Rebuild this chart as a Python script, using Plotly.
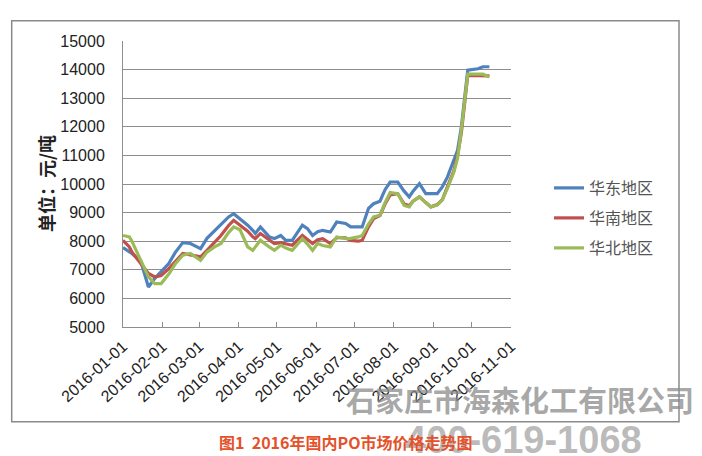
import plotly.graph_objects as go

# ---- data ----
dates = [
    "2016-01-01", "2016-01-06", "2016-01-08", "2016-01-15", "2016-01-21", "2016-01-26",
    "2016-01-31", "2016-02-06", "2016-02-11", "2016-02-17", "2016-02-23", "2016-03-02",
    "2016-03-07", "2016-03-13", "2016-03-18", "2016-03-24", "2016-03-28", "2016-04-02",
    "2016-04-08", "2016-04-12", "2016-04-14", "2016-04-18", "2016-04-25", "2016-04-29",
    "2016-05-04", "2016-05-08", "2016-05-13", "2016-05-21", "2016-05-25", "2016-05-29",
    "2016-06-02", "2016-06-06", "2016-06-12", "2016-06-17", "2016-06-24", "2016-06-28",
    "2016-07-04", "2016-07-07", "2016-07-12", "2016-07-16", "2016-07-21", "2016-07-25",
    "2016-07-29", "2016-08-04", "2016-08-09", "2016-08-13", "2016-08-16", "2016-08-21",
    "2016-08-26", "2016-08-30", "2016-09-04", "2016-09-08", "2016-09-12", "2016-09-17",
    "2016-09-20", "2016-09-23", "2016-09-28", "2016-10-06", "2016-10-10", "2016-10-15",
]

east = [7780, 7620, 7570, 7300, 6400, 6700, 6950, 7220, 7600, 7950, 7920, 7740,
        8100, 8360, 8600, 8850, 8960, 8790, 8560, 8380, 8270, 8500, 8150, 8090,
        8200, 8030, 8030, 8560, 8440, 8200, 8330, 8380, 8320, 8670, 8620, 8500,
        8500, 8500, 9150, 9310, 9400, 9800, 10070, 10070, 9750, 9550, 9750, 10010,
        9660, 9660, 9660, 9900, 10240, 10830, 11180, 12000, 13980, 14030, 14100, 14100]

south = [8030, 7800, 7620, 7220, 6870, 6750, 6800, 7040, 7300, 7570, 7520, 7450,
         7680, 7950, 8200, 8550, 8730, 8560, 8350, 8150, 8090, 8270, 8050, 7920,
         7950, 7900, 7860, 8200, 8050, 7920, 8050, 8090, 7920, 8120, 8120, 8030,
         8000, 8030, 8500, 8790, 8900, 9300, 9620, 9660, 9300, 9250, 9400, 9550,
         9350, 9200, 9280, 9450, 9900, 10450, 11000, 11800, 13800, 13800, 13800, 13780]

north = [8200, 8150, 8000, 7330, 6750, 6520, 6520, 6850, 7200, 7510, 7570, 7330,
         7620, 7800, 7920, 8300, 8500, 8400, 7800, 7680, 7800, 8030, 7800, 7680,
         7860, 7760, 7680, 8090, 7900, 7680, 7920, 7850, 7800, 8150, 8090, 8100,
         8150, 8200, 8600, 8850, 8910, 9350, 9700, 9660, 9250, 9200, 9400, 9550,
         9350, 9200, 9260, 9450, 9850, 10400, 10900, 11900, 13840, 13840, 13840, 13740]

series_names = ["华东地区", "华南地区", "华北地区"]
series_colors = ["#4F81BD", "#C0504D", "#9BBB59"]

tick_dates = ["2016-01-01", "2016-02-01", "2016-03-01", "2016-04-01", "2016-05-01",
              "2016-06-01", "2016-07-01", "2016-08-01", "2016-09-01", "2016-10-01",
              "2016-11-01"]
tick_labels = list(tick_dates)

y_title = "单位：元/吨"
chart_title = "图1  2016年国内PO市场价格走势图"
watermark_company = "石家庄市海森化工有限公司"
watermark_phone = "400-619-1068"

# ---- layout geometry (reference pixels; page body has an 8px margin) ----
OFF = 8
W, H = 702 - OFF, 456 - OFF
L, R, T, B = 123, 511, 41, 327
pw, ph = R - L, B - T


def px_x(x):
    return (x - L) / pw


def px_y(y):
    return (B - y) / ph


GRID = "#8E8E8E"
CJK = "Noto Sans CJK SC, sans-serif"
NUM = "Liberation Sans, Arial, sans-serif"

fig = go.Figure()
legend_ids = ["legend", "legend2", "legend3"]
for name, vals, col, lg in zip(series_names, [east, south, north], series_colors, legend_ids):
    fig.add_trace(go.Scatter(
        x=dates, y=vals, name=name, mode="lines",
        line=dict(color=col, width=3.2),
        legend=lg, showlegend=True,
    ))

legend_common = dict(
    xanchor="left", yanchor="middle", bgcolor="rgba(0,0,0,0)",
    font=dict(family=CJK, size=16, color="#555555"),
    borderwidth=0,
)
legend_rows = [188, 218, 248]
layout_legends = {}
for lg, yrow in zip(legend_ids, legend_rows):
    layout_legends[lg] = dict(x=px_x(549), y=px_y(yrow), **legend_common)

fig.update_layout(
    width=W, height=H,
    margin=dict(l=L - OFF, r=W - (R - OFF), t=T - OFF, b=H - (B - OFF), pad=0),
    paper_bgcolor="white", plot_bgcolor="white",
    showlegend=True,
    **layout_legends,
    xaxis=dict(
        type="date",
        range=["2016-01-01", "2016-11-01"],
        tickmode="array", tickvals=tick_dates, ticktext=tick_labels,
        tickangle=-42,
        tickfont=dict(family=NUM, size=16, color="#222222"),
        ticks="inside", ticklen=5, tickcolor=GRID, tickwidth=1,
        showgrid=False, zeroline=False,
        showline=True, linecolor=GRID, linewidth=1,
        ticklabelstandoff=3,
    ),
    yaxis=dict(
        range=[5000, 15000], dtick=1000, tick0=5000, tickformat="d",
        tickfont=dict(family=NUM, size=16, color="#222222"),
        showgrid=True, gridcolor=GRID, gridwidth=1,
        zeroline=False, showline=True, linecolor=GRID, linewidth=1,
        ticks="", ticklabelstandoff=14,
    ),
)

# outer chart frame
fig.add_shape(type="rect", xref="paper", yref="paper",
              x0=px_x(11.7), x1=px_x(679), y0=px_y(421.7), y1=px_y(20.7),
              line=dict(color="#8A8A8A", width=1.5), fillcolor="rgba(0,0,0,0)", layer="below")

annotations = [
    dict(text="<b>" + y_title + "</b>", x=px_x(46), y=0.5, textangle=-90,
         font=dict(family=CJK, size=18, color="#222222")),
    dict(text="<b>" + watermark_company + "</b>", x=px_x(520), y=px_y(399),
         font=dict(family=CJK, size=29, color="rgba(140,140,140,0.75)")),
    dict(text="<b>" + watermark_phone + "</b>", x=px_x(523), y=px_y(440),
         font=dict(family=NUM, size=38, color="rgba(165,165,165,0.75)")),
    dict(text="<b>" + chart_title + "</b>", x=px_x(345), y=px_y(442),
         font=dict(family=CJK, size=16, color="#E4512A")),
]
for a in annotations:
    fig.add_annotation(xref="paper", yref="paper", showarrow=False,
                       xanchor="center", yanchor="middle", **a)

fig.write_html("out.html")
